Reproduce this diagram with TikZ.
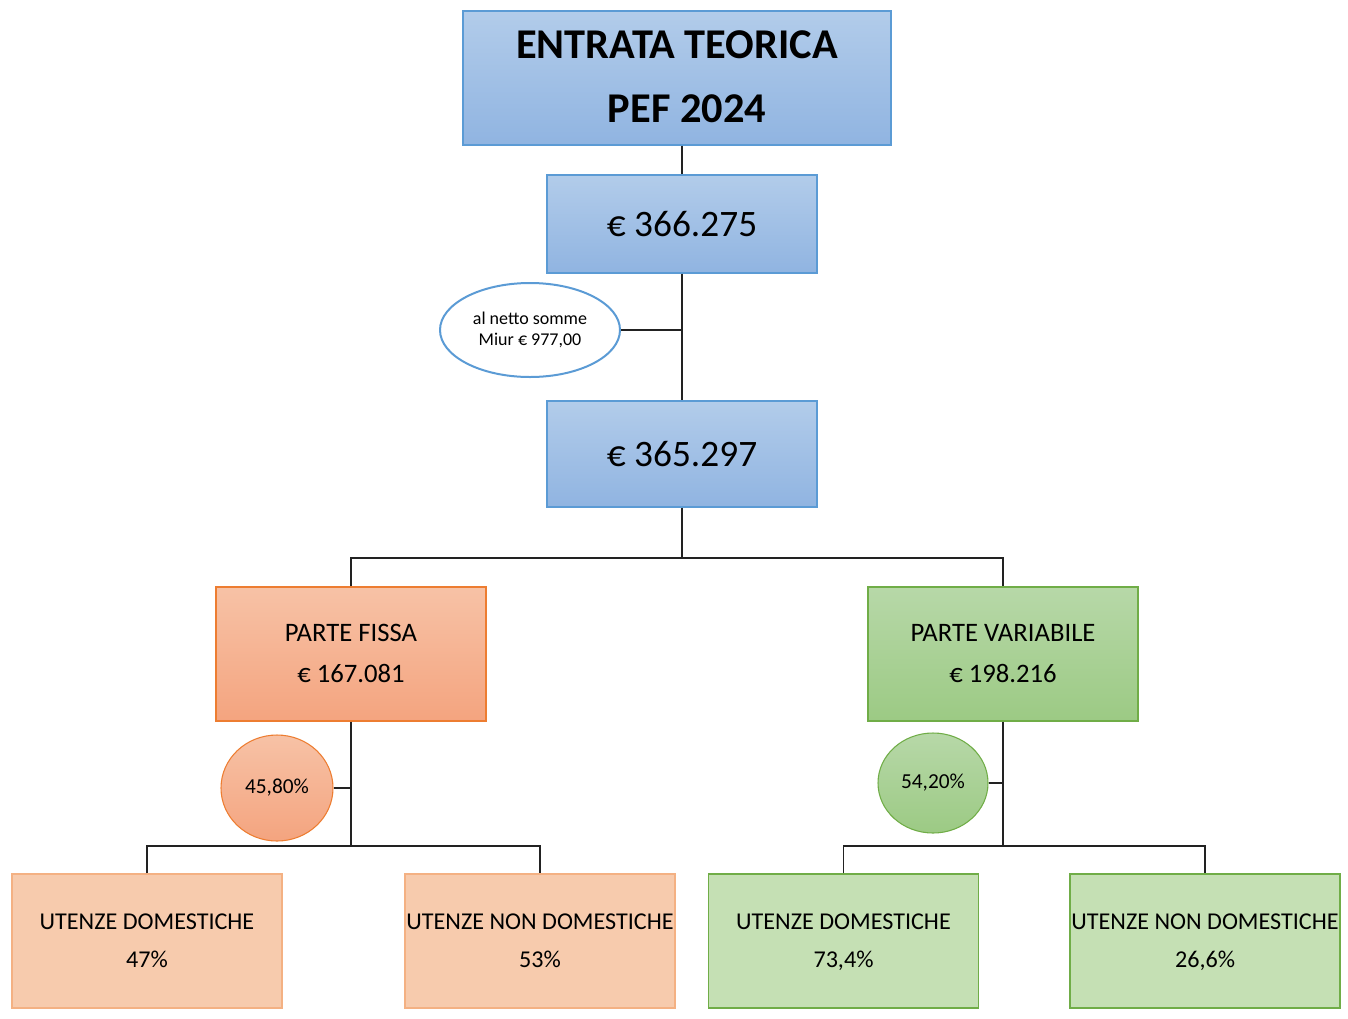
\documentclass[tikz,border=0pt]{standalone}
\usepackage{fontspec}
\setmainfont{Carlito}
\usetikzlibrary{shapes.geometric,calc}
\definecolor{bluetop}{HTML}{B2CCEA}
\definecolor{bluebot}{HTML}{90B4E1}
\definecolor{blueline}{HTML}{5B9BD5}
\definecolor{ortop}{HTML}{F7C2A6}
\definecolor{orbot}{HTML}{F4A47F}
\definecolor{orline}{HTML}{ED7D31}
\definecolor{grtop}{HTML}{B7D8A8}
\definecolor{grbot}{HTML}{9CCA84}
\definecolor{grline}{HTML}{70AD47}
\definecolor{orlight}{HTML}{F7CBAD}
\definecolor{orlightline}{HTML}{F4B183}
\definecolor{grlight}{HTML}{C5E0B4}
\definecolor{conn}{HTML}{222222}
\begin{document}
\begin{tikzpicture}[x=0.75pt,y=-0.75pt,
  bluebox/.style={rectangle,draw=blueline,line width=1.1pt,top color=bluetop,bottom color=bluebot,align=center,inner sep=0pt},
  orbox/.style={rectangle,draw=orline,line width=0.8pt,top color=ortop,bottom color=orbot,align=center,inner sep=0pt,minimum width=270*0.75pt,minimum height=134*0.75pt,font=\fontsize{20}{31}\selectfont},
  grbox/.style={rectangle,draw=grline,line width=0.8pt,top color=grtop,bottom color=grbot,align=center,inner sep=0pt,minimum width=270*0.75pt,minimum height=134*0.75pt,font=\fontsize{20}{31}\selectfont},
  orleaf/.style={rectangle,draw=orlightline,line width=0.8pt,fill=orlight,align=center,inner sep=0pt,minimum width=270*0.75pt,minimum height=134*0.75pt,font=\fontsize{18.1}{28}\selectfont},
  grleaf/.style={rectangle,draw=grline,line width=0.8pt,fill=grlight,align=center,inner sep=0pt,minimum width=270*0.75pt,minimum height=134*0.75pt,font=\fontsize{18.1}{28}\selectfont},
  orcirc/.style={ellipse,draw=orline,line width=0.8pt,top color=ortop,bottom color=orbot,inner sep=0pt,font=\fontsize{16}{19}\selectfont},
  grcirc/.style={ellipse,draw=grline,line width=0.8pt,top color=grtop,bottom color=grbot,inner sep=0pt,font=\fontsize{16}{19}\selectfont},
  note/.style={ellipse,draw=blueline,line width=1.5pt,fill=white,align=center,inner sep=0pt,font=\fontsize{13.5}{16}\selectfont},
  connector/.style={draw=conn,line width=1.1pt}
]
\useasboundingbox (0,0) rectangle (1348,1018);

\node[bluebox,minimum width=428*0.75pt,minimum height=134*0.75pt,font=\fontsize{31.8}{48}\selectfont\bfseries] (title) at (677,78) {\strut ENTRATA TEORICA\\\hspace*{15pt}PEF 2024\strut};
\node[bluebox,minimum width=270*0.75pt,minimum height=98*0.75pt,font=\fontsize{28}{32}\selectfont] (a) at (682,224) {€ 366.275};
\node[note,minimum width=180*0.75pt,minimum height=94*0.75pt] (n) at (530,330) {al netto somme\\Miur € 977,00};
\node[bluebox,minimum width=270*0.75pt,minimum height=106*0.75pt,font=\fontsize{28}{32}\selectfont] (b) at (682,454) {€ 365.297};

\node[orbox] (fissa) at (351,654) {\strut PARTE FISSA\\€ 167.081\strut};
\node[grbox] (var) at (1003,654) {\strut PARTE VARIABILE\\€ 198.216\strut};

\node[orcirc,minimum width=112*0.75pt,minimum height=106*0.75pt] (cl) at (277,788) {45,80\%};
\node[grcirc,minimum width=110*0.75pt,minimum height=100*0.75pt] (cr) at (933,783) {54,20\%};

\node[orleaf] (u1) at (147,941) {\strut UTENZE DOMESTICHE\\47\%\strut};
\node[orleaf] (u2) at (540,941) {\strut UTENZE NON DOMESTICHE\\53\%\strut};
\node[grleaf] (u3) at (843.5,941) {\strut UTENZE DOMESTICHE\\73,4\%\strut};
\node[grleaf] (u4) at (1205,941) {\strut UTENZE NON DOMESTICHE\\26,6\%\strut};

\coordinate (j1) at (682,558);
\coordinate (j2) at (351,846);
\coordinate (j3) at (1003,846);

\draw[connector] (a.north |- title.south) -- (a.north);
\draw[connector] (a.south) -- (b.north);
\draw[connector] (n.east) -- (a.south |- n.east);
\draw[connector] (b.south) -- (j1);
\draw[connector] (fissa.north) |- (j1) -| (var.north);
\draw[connector] (fissa.south) -- (j2);
\draw[connector] (u1.north) |- (j2) -| (u2.north);
\draw[connector] (cl.east) -- (fissa.south |- cl.east);
\draw[connector] (var.south) -- (j3);
\draw[connector] (u3.north) |- (j3) -| (u4.north);
\draw[connector] (cr.east) -- (var.south |- cr.east);
\end{tikzpicture}
\end{document}
